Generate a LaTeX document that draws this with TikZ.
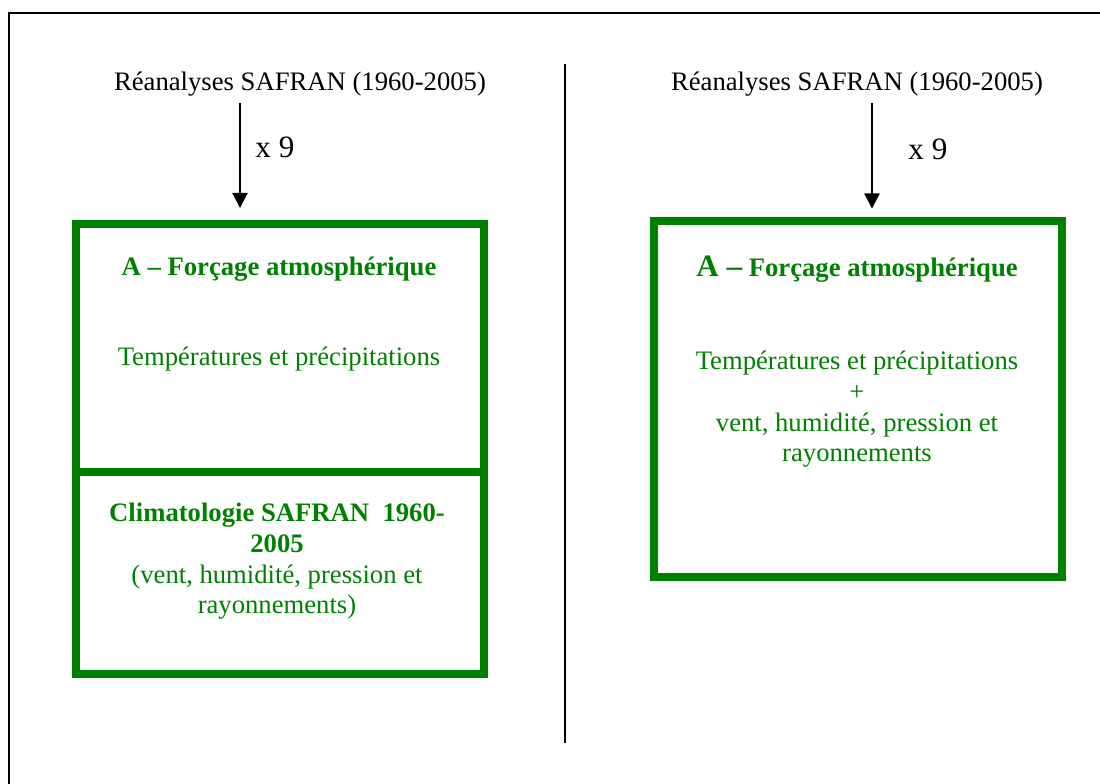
\documentclass[tikz,border=0pt]{standalone}
\usepackage{fontspec}
\setmainfont{Liberation Serif}
\usetikzlibrary{positioning,arrows.meta}
\definecolor{vert}{HTML}{008000}

\begin{document}
\begin{tikzpicture}[
  x=0.45pt,y=-0.45pt,
  font=\fontsize{12}{13.8}\selectfont,
  box/.style={draw=vert,line width=3.6pt,minimum width=183.6pt,inner sep=0pt,outer sep=0pt},
  src/.style={anchor=base,inner sep=0pt},
  fois/.style={anchor=base west,inner sep=0pt,font=\fontsize{14}{16}\selectfont},
  txt/.style={text=vert,align=center,inner sep=0pt},
  ar/.style={-{Triangle[length=6.8pt,width=6.8pt]},line width=0.9pt}]
  \useasboundingbox (0,0) rectangle (1100,784);
  % cadre et separation
  \draw[line width=1.2pt] (9,784) |- (1100,13);
  \draw[line width=0.9pt] (565,64) -- (565,743);
  % gauche
  \node[src] (srcL) at (300,90) {Réanalyses SAFRAN (1960-2005)};
  \node[box,minimum height=111.4pt] (forcL) at (280,348.25) {};
  \node[box,minimum height=90.9pt,below=0pt of forcL] (climL) {};
  \coordinate (aL) at (240,103);
  \draw[ar,shorten >=7.4pt] (aL) -- (aL |- forcL.north);
  \node[fois] (nL) at (255,157) {x 9};
  \node[src,text=vert,font=\fontsize{12}{13.8}\selectfont\bfseries] (titL) at (279,275) {A – Forçage atmosphérique};
  \node[src,text=vert] (tpL) at (279,365) {Températures et précipitations};
  \node[txt,anchor=north] (txtClim) at (277,503) {\textbf{Climatologie SAFRAN\ \ 1960-}\\ \textbf{2005}\\ (vent, humidité, pression et\\ rayonnements)};
  % droite
  \node[src] (srcR) at (857,90) {Réanalyses SAFRAN (1960-2005)};
  \node[box,minimum height=160.2pt] (forcR) at (858,399) {};
  \coordinate (aR) at (872,103);
  \draw[ar,shorten >=5.6pt] (aR) -- (aR |- forcR.north);
  \node[fois] (nR) at (908,159) {x 9};
  \node[src,text=vert,font=\fontsize{12}{13.8}\selectfont\bfseries] (titR) at (857,276) {{\fontsize{14}{16}\selectfont A –} Forçage atmosphérique};
  \node[txt,anchor=north] (txtR) at (857,351) {Températures et précipitations\\ +\\ vent, humidité, pression et\\ rayonnements};
\end{tikzpicture}
\end{document}
